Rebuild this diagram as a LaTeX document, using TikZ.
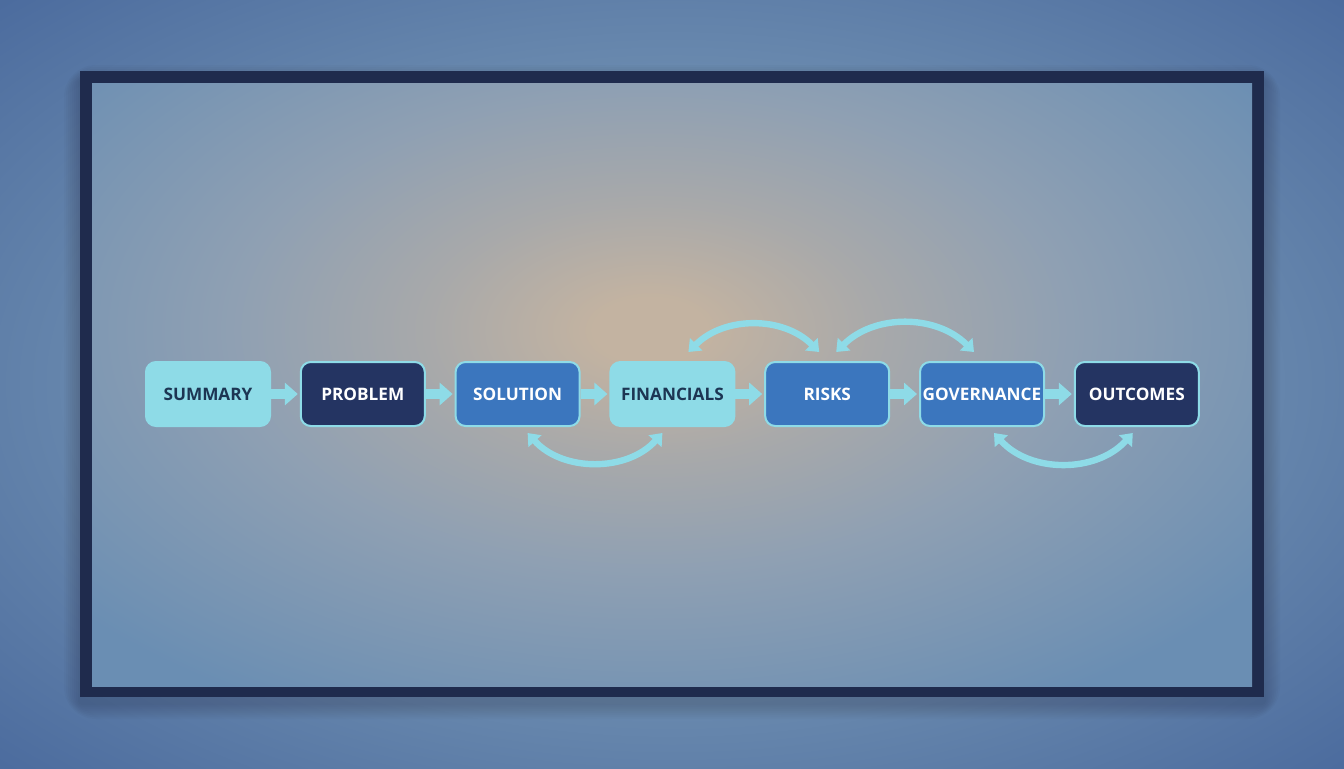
\documentclass[tikz,border=0pt]{standalone}
\usepackage{fontspec}
\setmainfont{Open Sans}
\usetikzlibrary{positioning,arrows.meta}

\definecolor{pagebg}{HTML}{44649A}
\definecolor{pagelite}{HTML}{6B8BAF}
\definecolor{framecol}{HTML}{1F2B4D}
\definecolor{glowmid}{HTML}{C3B3A1}
\definecolor{glowtwo}{HTML}{A8A9AA}
\definecolor{glowthree}{HTML}{8FA0B3}
\definecolor{glowedge}{HTML}{6A8EB3}
\definecolor{cyanbox}{HTML}{8EDBE7}
\definecolor{navybox}{HTML}{243462}
\definecolor{bluebox}{HTML}{3B76BE}
\definecolor{darktext}{HTML}{1C3553}

\pgfdeclareradialshading{glow}{\pgfpoint{0bp}{0bp}}{%
  color(0bp)=(glowmid); color(2bp)=(glowmid); color(8bp)=(glowtwo);
  color(15bp)=(glowthree); color(27bp)=(glowedge); color(50bp)=(glowedge)}
\pgfdeclareradialshading{pageglow}{\pgfpoint{0bp}{0bp}}{%
  color(0bp)=(pagelite); color(17bp)=(pagelite); color(34bp)=(pagebg);
  color(50bp)=(pagebg)}

\tikzset{
  stage/.style={rounded corners=5pt, minimum width=62pt, minimum height=32pt,
    line width=1pt, draw=cyanbox, font=\bfseries\fontsize{8.6}{10}\selectfont,
    inner xsep=0pt, inner ysep=2pt},
  lightstage/.style={stage, fill=cyanbox, text=darktext},
  navystage/.style={stage, fill=navybox, text=white},
  bluestage/.style={stage, fill=bluebox, text=white},
  flow/.style={draw=cyanbox, line width=5pt, shorten >=1pt,
    -{Triangle[length=6.5pt,width=11pt]}},
  loop/.style={draw=cyanbox, line width=3.2pt,
    {Triangle[length=5.5pt,width=8.5pt]}-{Triangle[length=5.5pt,width=8.5pt]}}
}

\begin{document}
\begin{tikzpicture}[x=0.5pt,y=0.5pt]
  \useasboundingbox (0,0) rectangle (1344,768);

  % Background
  \shade[shading=pageglow] (-100,-60) rectangle (1444,828);
  \foreach \s in {2,4,...,16} % soft shadow
    \fill[black, opacity=0.018, rounded corners=\s] (80-\s,71-\s-6) rectangle (1264+\s,697+\s-10);
  \fill[framecol] (80,71) rectangle (1264,697); % Frame
  \begin{scope}
    \clip (92,82) rectangle (1252,685);
    \shade[shading=glow] (-50,38) rectangle (1350,838);
  \end{scope}

  % Stages
  \node[lightstage] (summary) at (208,374) {SUMMARY};
  \node[navystage, right=14.4pt of summary] (problem) {PROBLEM};
  \node[bluestage, right=14.4pt of problem] (solution) {SOLUTION};
  \node[lightstage, right=14.4pt of solution] (financials) {FINANCIALS};
  \node[bluestage, right=14.4pt of financials] (risks) {RISKS};
  \node[bluestage, right=14.4pt of risks] (governance) {GOVERNANCE};
  \node[navystage, right=14.4pt of governance] (outcomes) {OUTCOMES};

  % Straight flow
  \draw[flow] (summary) -- (problem);
  \draw[flow] (problem) -- (solution);
  \draw[flow] (solution) -- (financials);
  \draw[flow] (financials) -- (risks);
  \draw[flow] (risks) -- (governance);
  \draw[flow] (governance) -- (outcomes);

  % Loops
  \draw[loop] ([xshift=5pt,yshift=-3pt]solution.south) to[bend right=48] ([xshift=-5pt,yshift=-3pt]financials.south);
  \draw[loop] ([xshift=8pt,yshift=4.5pt]financials.north) to[bend left=45] ([xshift=-4pt,yshift=4.5pt]risks.north);
  \draw[loop] ([xshift=4.5pt,yshift=4.5pt]risks.north) to[bend left=45] ([xshift=-4pt,yshift=4.5pt]governance.north);
  \draw[loop] ([xshift=6pt,yshift=-3pt]governance.south) to[bend right=48] ([xshift=-2pt,yshift=-3pt]outcomes.south);
\end{tikzpicture}
\end{document}
